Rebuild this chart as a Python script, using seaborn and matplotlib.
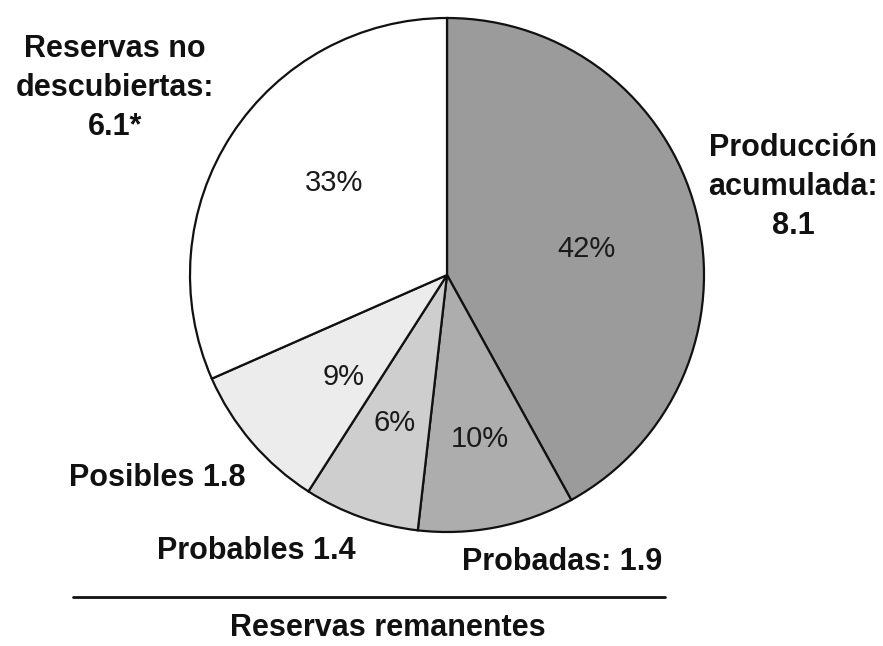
import matplotlib
matplotlib.use("Agg")
import matplotlib.pyplot as plt
import seaborn as sns
import numpy as np

categories = ["Producción acumulada", "Probadas", "Probables", "Posibles", "Reservas no descubiertas"]
values = [8.1, 1.9, 1.4, 1.8, 6.1]
pct_labels = ["42%", "10%", "6%", "9%", "33%"]
outer_labels = ["Producción\nacumulada:\n8.1", "Probadas: 1.9", "Probables 1.4",
                "Posibles 1.8", "Reservas no\ndescubiertas:\n6.1*"]
group_label = "Reservas remanentes"
colors = ["#9b9b9b", "#adadad", "#cecece", "#ececec", "#ffffff"]

sns.set_theme(style="white")
plt.rcParams['font.family'] = ['Liberation Sans', 'DejaVu Sans']

W, H = 883, 646
fig = plt.figure(figsize=(W / 100, H / 100), dpi=100)
ax = fig.add_axes([0, 0, 1, 1])

cx, cy, R = 447, H - 275, 257
wedges, texts = ax.pie(
    values, colors=colors, startangle=90, counterclock=False,
    center=(cx, cy), radius=R, frame=True,
    wedgeprops=dict(edgecolor="#111111", linewidth=1.6))
ax.set_xlim(0, W)
ax.set_ylim(0, H)
ax.set_aspect("equal")
ax.axis("off")

pct_dist = [0.55, 0.65, 0.61, 0.565, 0.565]
pct_rot = [-4, 0, 0, 4, -6]
for w, lab, d, r in zip(wedges, pct_labels, pct_dist, pct_rot):
    th = np.deg2rad((w.theta1 + w.theta2) / 2 + r)
    ax.text(cx + d * R * np.cos(th), cy + d * R * np.sin(th), lab,
            ha="center", va="center", fontsize=21, color="#1a1a1a")

label_pos = [(793, H - 187), (562, H - 562), (256, H - 551),
             (157, H - 478), (115, H - 88)]
for txt, (x, y) in zip(outer_labels, label_pos):
    ax.text(x, y, txt, ha="center", va="center", fontsize=22, fontweight="bold",
            color="#111111", linespacing=1.38)

ax.plot([73, 665], [H - 597, H - 597], color="#111111", linewidth=2)
ax.text(388, H - 628, group_label, ha="center", va="center", fontsize=22,
        fontweight="bold", color="#111111")

fig.savefig("out.png", dpi=100, facecolor="white")
